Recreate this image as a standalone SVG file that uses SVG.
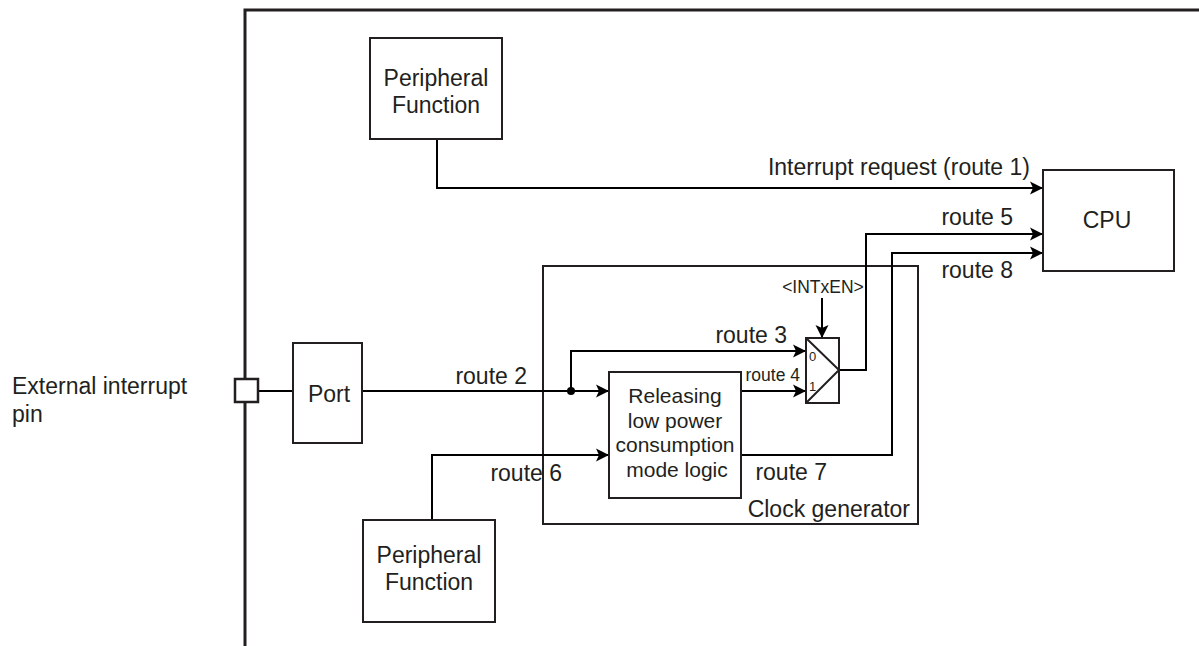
<svg xmlns="http://www.w3.org/2000/svg" width="1199" height="646" viewBox="0 0 1199 646">
<style>
  text { font-family: "Liberation Sans", Arial, sans-serif; fill: #231f20; }
  .t22 { font-size: 23px; }
  .t20 { font-size: 21px; }
  .box { fill: #ffffff; stroke: #231f20; stroke-width: 2; }
  .wire { fill: none; stroke: #000000; stroke-width: 2; }
  .mid { text-anchor: middle; }
  .end { text-anchor: end; }
</style>
<defs>
  <marker id="arr" markerUnits="userSpaceOnUse" markerWidth="16" markerHeight="14" viewBox="-13 -7 16 14" refX="0" refY="0" orient="auto">
    <path d="M-13,-6.5 L0,0 L-13,6.5 L-10,0 Z" fill="#000000"/>
  </marker>
</defs>
<rect width="1199" height="646" fill="#ffffff"/>

<g id="chip-border">
  <path d="M1199,10 L245,10 L245,646" fill="none" stroke="#231f20" stroke-width="3"/>
</g>

<g id="clock-generator">
  <rect x="543" y="266" width="375" height="258" fill="none" stroke="#231f20" stroke-width="2"/>
  <text class="t22 end" x="910" y="517">Clock generator</text>
</g>

<g id="connectors">
  <path class="wire" d="M437,139 V188 H1043" marker-end="url(#arr)"/>
  <path class="wire" d="M258,391 H293"/>
  <path class="wire" d="M362,391 H609" marker-end="url(#arr)"/>
  <path class="wire" d="M571,391 V351 H806" marker-end="url(#arr)"/>
  <circle cx="571" cy="391" r="4" fill="#000000"/>
  <path class="wire" d="M741,391 H806" marker-end="url(#arr)"/>
  <path class="wire" d="M822,298 V338" marker-end="url(#arr)"/>
  <path class="wire" d="M839,370 H866 V234 H1043" marker-end="url(#arr)"/>
  <path class="wire" d="M741,455 H892 V253 H1043" marker-end="url(#arr)"/>
  <path class="wire" d="M432,520 V455 H609" marker-end="url(#arr)"/>
  <text class="t22 end" x="1030" y="175">Interrupt request (route 1)</text>
  <text class="t22 end" x="1013" y="225">route 5</text>
  <text class="t22 end" x="1013" y="278">route 8</text>
  <text class="t22 end" x="787" y="343">route 3</text>
  <text class="end" x="800" y="381" font-size="17.5">route 4</text>
  <text class="t22 end" x="527" y="384">route 2</text>
  <text class="t22 end" x="562" y="481">route 6</text>
  <text class="t22 end" x="827" y="480">route 7</text>
  <text class="mid" x="823" y="293" font-size="17.5">&lt;INTxEN&gt;</text>
</g>

<g id="peripheral-top">
  <rect class="box" x="370" y="38" width="132" height="101"/>
  <text class="t22 mid" x="436" y="86">Peripheral</text>
  <text class="t22 mid" x="436" y="113">Function</text>
</g>

<g id="cpu">
  <rect class="box" x="1043" y="170" width="131" height="101"/>
  <text class="t22 mid" x="1107" y="228">CPU</text>
</g>

<g id="external-pin">
  <rect x="235" y="379" width="23" height="23" fill="#ffffff" stroke="#231f20" stroke-width="2.5"/>
  <text class="t22" x="12" y="394">External interrupt</text>
  <text class="t22" x="12" y="422">pin</text>
</g>

<g id="port">
  <rect class="box" x="293" y="343" width="69" height="100"/>
  <text class="t22 mid" x="329" y="402">Port</text>
</g>

<g id="logic">
  <rect class="box" x="609" y="372" width="132" height="126"/>
  <text class="t20 mid" x="675" y="403">Releasing</text>
  <text class="t20 mid" x="675" y="428">low power</text>
  <text class="t20 mid" x="675" y="452">consumption</text>
  <text class="t20 mid" x="677" y="477">mode logic</text>
</g>

<g id="mux">
  <rect class="box" x="806" y="338" width="33" height="65"/>
  <path d="M806,338 L839,370 L806,403" fill="none" stroke="#231f20" stroke-width="2"/>
  <text x="809" y="361" font-size="13">0</text>
  <text x="809" y="391" font-size="13">1</text>
</g>

<g id="peripheral-bottom">
  <rect class="box" x="363" y="520" width="132" height="102"/>
  <text class="t22 mid" x="429" y="563">Peripheral</text>
  <text class="t22 mid" x="429" y="590">Function</text>
</g>
</svg>
